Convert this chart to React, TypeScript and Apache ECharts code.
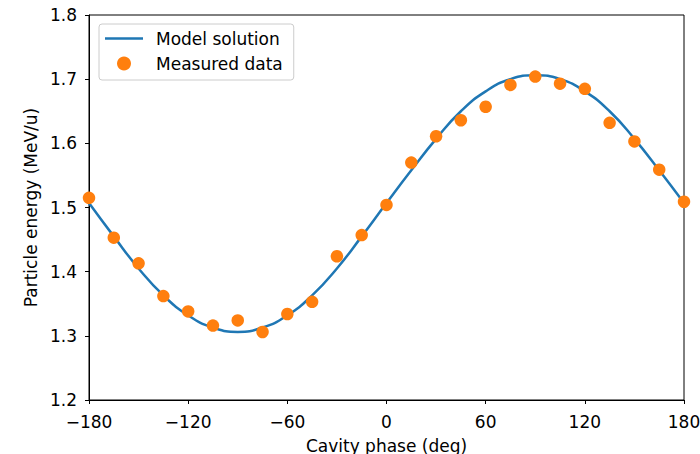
import React, { useEffect, useRef } from "react";
import * as echarts from "echarts";

const phases = [-180, -165, -150, -135, -120, -105, -90, -75, -60, -45, -30, -15, 0, 15, 30, 45, 60, 75, 90, 105, 120, 135, 150, 165, 180];
const measured = [1.515, 1.453, 1.413, 1.362, 1.338, 1.316, 1.324, 1.306, 1.334, 1.353, 1.424, 1.457, 1.504, 1.570, 1.611, 1.636, 1.657, 1.691, 1.704, 1.693, 1.685, 1.632, 1.603, 1.559, 1.509];
const modelPhases = [-180, -165, -150, -135, -120, -105, -90, -75, -60, -45, -30, -15, 0, 15, 30, 45, 60, 75, 90, 105, 120, 135, 150, 165, 180];
const model = [1.507, 1.455, 1.405, 1.363, 1.332, 1.313, 1.306, 1.313, 1.332, 1.363, 1.405, 1.455, 1.507, 1.558, 1.607, 1.650, 1.681, 1.700, 1.706, 1.700, 1.681, 1.650, 1.607, 1.558, 1.507];
const xTicks = { min: -180, max: 180, interval: 60 };
const yTicks = { min: 1.2, max: 1.8, interval: 0.1 };

const FONT = "DejaVu Sans";
const FS = 17;
const LINE_ICON = "path://M0,0 M0,5.75 L38,5.75 L38,8.25 L0,8.25 Z M38,14";

export default function App() {
  const ref = useRef<HTMLDivElement>(null);
  useEffect(() => {
    const chart = echarts.init(ref.current!, undefined, { renderer: "svg" });
    chart.setOption({
      animation: false,
      backgroundColor: "#fff",
      textStyle: { fontFamily: FONT },
      grid: { left: 89, top: 15, width: 595, height: 385, containLabel: false, outerBoundsMode: "none", show: true, borderColor: "#000", borderWidth: 1, backgroundColor: "transparent" },
      legend: {
        orient: "vertical",
        left: 99,
        top: 24,
        padding: [6, 11, 8, 6],
        itemGap: 8,
        itemWidth: 38,
        itemHeight: 14,
        borderColor: "#cccccc",
        borderWidth: 1,
        borderRadius: 3,
        backgroundColor: "rgba(255,255,255,0.8)",
        textStyle: { fontFamily: FONT, fontSize: FS, color: "#000", padding: [0, 0, 0, 8] },
        data: [
          { name: "Model solution", icon: LINE_ICON, itemStyle: { color: "#1f77b4" } },
          { name: "Measured data", icon: "circle" },
        ],
      },
      xAxis: {
        type: "value",
        min: xTicks.min,
        max: xTicks.max,
        interval: xTicks.interval,
        name: "Cavity phase (deg)",
        nameLocation: "middle",
        nameGap: 37,
        nameTextStyle: { fontFamily: FONT, fontSize: FS, color: "#000" },
        axisLine: { show: true, onZero: false, lineStyle: { color: "#000", width: 1 } },
        axisTick: { show: true, length: 4, inside: false, lineStyle: { color: "#000" } },
        axisLabel: { fontFamily: FONT, fontSize: FS, color: "#000", margin: 13, hideOverlap: false, formatter: (v: number) => String(v).replace("-", "\u2212") },
        splitLine: { show: false },
      },
      yAxis: {
        type: "value",
        min: yTicks.min,
        max: yTicks.max,
        interval: yTicks.interval,
        name: "Particle energy (MeV/u)",
        nameLocation: "middle",
        nameGap: 48,
        nameTextStyle: { fontFamily: FONT, fontSize: FS, color: "#000" },
        axisLine: { show: true, onZero: false, lineStyle: { color: "#000", width: 1 } },
        axisTick: { show: true, length: 4, inside: false, lineStyle: { color: "#000" } },
        axisLabel: { fontFamily: FONT, fontSize: FS, color: "#000", margin: 12, hideOverlap: false, formatter: (v: number) => v.toFixed(1) },
        splitLine: { show: false },
      },
      series: [
        {
          name: "Model solution",
          type: "line",
          data: modelPhases.map((p, i) => [p, model[i]]),
          smooth: 0.5,
          symbol: "none",
          lineStyle: { color: "#1f77b4", width: 2.5 },
          itemStyle: { color: "#1f77b4" },
          z: 2,
        },
        {
          name: "Measured data",
          type: "scatter",
          data: phases.map((p, i) => [p, measured[i]]),
          symbol: "circle",
          symbolSize: 12.5,
          itemStyle: { color: "#ff7f0e", opacity: 1 },
          z: 3,
        },
      ],
    });
    return () => chart.dispose();
  }, []);
  return <div ref={ref} style={{ position: "fixed", left: 0, top: 0, width: 700, height: 454 }} />;
}
